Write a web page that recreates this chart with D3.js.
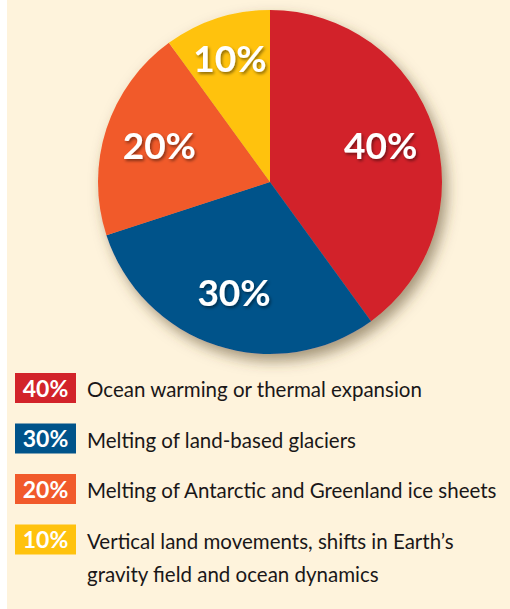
<!DOCTYPE html>
<html>
<head>
<meta charset="utf-8">
<script src="https://cdn.jsdelivr.net/npm/d3@7"></script>
<style>
    html, body { margin: 0; padding: 0; background: #ffffff; }
    svg { display: block; }
</style>
</head>
<body>
<svg id="chart"></svg>
<script>
// Sources of sea level rise (share, %)
const categories = ['ocean', 'glaciers', 'icesheets', 'other'];
const shares = [40, 30, 20, 10];
const sliceLabels = ['40%', '30%', '20%', '10%'];
const legendLines = [
    ['Ocean warming or thermal expansion'],
    ['Melting of land-based glaciers'],
    ['Melting of Antarctic and Greenland ice sheets'],
    ['Vertical land movements, shifts in Earth\u2019s', 'gravity field and ocean dynamics']
];

const COLORS = {
    ocean: '#d2232a',
    glaciers: '#00538a',
    icesheets: '#f15a2b',
    other: '#ffc20e'
};

const width = 510;
const height = 609;
const cx = 270;
const cy = 182;
const radius = 172;

const svg = d3.select('#chart')
    .attr('width', width)
    .attr('height', height);

const defs = svg.append('defs');

const shadow = defs.append('filter')
    .attr('id', 'pie-shadow')
    .attr('x', '-20%').attr('y', '-20%')
    .attr('width', '150%').attr('height', '150%');
shadow.append('feDropShadow')
    .attr('dx', 5).attr('dy', 7)
    .attr('stdDeviation', 7)
    .attr('flood-color', '#5a4a2a')
    .attr('flood-opacity', 0.55);

const textShadow = defs.append('filter')
    .attr('id', 'text-shadow')
    .attr('x', '-20%').attr('y', '-20%')
    .attr('width', '150%').attr('height', '150%');
textShadow.append('feDropShadow')
    .attr('dx', 1.5).attr('dy', 2)
    .attr('stdDeviation', 1.5)
    .attr('flood-color', '#000')
    .attr('flood-opacity', 0.45);

// cream panel (thin white strip on the left edge)
svg.append('rect')
    .attr('x', 7).attr('y', 0)
    .attr('width', width - 7).attr('height', height)
    .attr('fill', '#fef3dc');

const data = categories.map((c, i) => ({ key: c, value: shares[i], label: sliceLabels[i], lines: legendLines[i] }));

const pie = d3.pie()
    .value(d => d.value)
    .sort(null);

const arc = d3.arc().innerRadius(0).outerRadius(radius);
const labelArc = d3.arc().innerRadius(120).outerRadius(120);

const g = svg.append('g')
    .attr('transform', `translate(${cx},${cy})`);

g.append('g')
    .attr('filter', 'url(#pie-shadow)')
    .selectAll('path')
    .data(pie(data))
    .join('path')
    .attr('d', arc)
    .attr('fill', d => COLORS[d.data.key]);

g.append('g').selectAll('text')
    .data(pie(data))
    .join('text')
    .attr('transform', d => {
        const [x, y] = labelArc.centroid(d);
        // small slices sit their label a little further out
        const k = d.data.value <= 10 ? 1.08 : 0.97;
        return `translate(${x * k},${y * k})`;
    })
    .attr('text-anchor', 'middle')
    .attr('dy', '0.36em')
    .attr('font-family', 'Lato, "Open Sans", sans-serif')
    .attr('font-weight', 'bold')
    .attr('font-size', 37)
    .attr('fill', '#ffffff')
    .attr('filter', 'url(#text-shadow)')
    .text(d => d.data.label);

// Legend
const rowY = d3.scaleBand()
    .domain(categories)
    .range([373, 575])
    .paddingInner(0);

const legend = svg.append('g').selectAll('g')
    .data(data)
    .join('g')
    .attr('transform', d => `translate(15,${rowY(d.key)})`);

legend.append('rect')
    .attr('width', 61)
    .attr('height', 30)
    .attr('fill', d => COLORS[d.key]);

legend.append('text')
    .attr('x', 30.5)
    .attr('y', 23.5)
    .attr('text-anchor', 'middle')
    .attr('font-family', 'Lato, "Open Sans", sans-serif')
    .attr('font-weight', 'bold')
    .attr('font-size', 23)
    .attr('fill', '#ffffff')
    .text(d => d.label);

legend.append('text')
    .attr('x', 72)
    .attr('y', 24)
    .attr('font-family', 'Lato, "Open Sans", sans-serif')
    .attr('font-size', 20.5)
    .attr('fill', '#1a1718')
    .selectAll('tspan')
    .data(d => d.lines)
    .join('tspan')
    .attr('x', 72)
    .attr('dy', (d, i) => i === 0 ? 0 : 33)
    .text(d => d);
</script>
</body>
</html>
